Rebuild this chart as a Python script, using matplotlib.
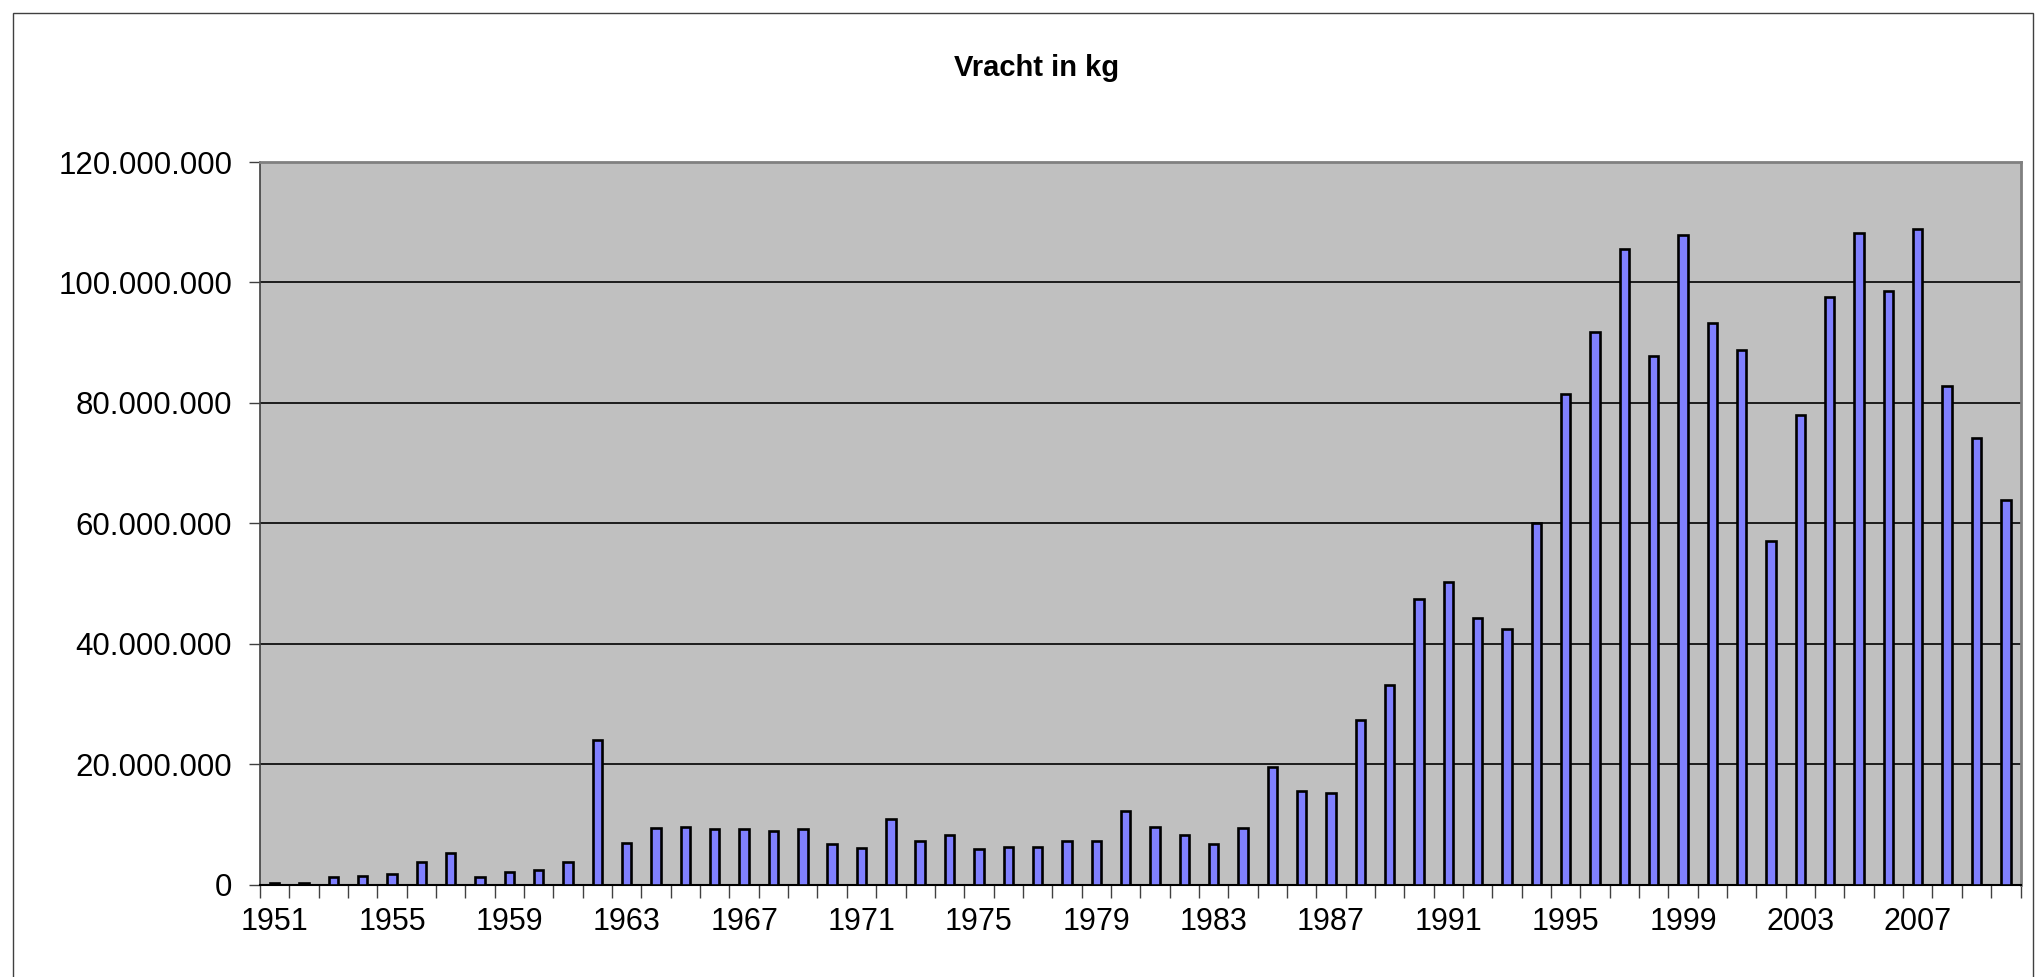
import matplotlib.pyplot as plt
from matplotlib.patches import Rectangle
from matplotlib.ticker import FuncFormatter, FixedLocator

plt.rcParams['font.family'] = ['Liberation Sans', 'DejaVu Sans']

# freight per year, in millions of kg
years = list(range(1951, 2011))
vracht_mln = [
    0.2, 0.3, 1.3, 1.4, 1.8, 3.7, 5.3, 1.3, 2.0, 2.4,
    3.8, 24.0, 6.9, 9.4, 9.6, 9.2, 9.25, 8.9, 9.25, 6.7,
    6.0, 10.8, 7.3, 8.3, 5.9, 6.3, 6.2, 7.3, 7.3, 12.2,
    9.6, 8.2, 6.8, 9.4, 19.5, 15.5, 15.2, 27.3, 33.2, 47.5,
    50.3, 44.3, 42.5, 60.1, 81.5, 91.7, 105.6, 87.7, 107.9, 93.3,
    88.7, 57.1, 77.9, 97.5, 108.2, 98.5, 108.9, 82.8, 74.2, 63.9,
]
vracht = [v * 1e6 for v in vracht_mln]
tick_years = years[::4]

fig = plt.figure(figsize=(20.37, 9.77), dpi=100)

# outer chart border
fig.patches.append(Rectangle((13 / 2037, -0.05), (2033 - 13) / 2037, 1.05 - 13 / 977,
                             transform=fig.transFigure, fill=False,
                             edgecolor='#404040', linewidth=1.0))

ax = fig.add_axes([260 / 2037, (977 - 884.5) / 977, (2020.5 - 260) / 2037, (884.5 - 162) / 977])
ax.set_facecolor('#C0C0C0')

x = list(range(len(years)))
ax.bar(x, vracht, width=0.32, color='#8080FF', edgecolor='black', linewidth=1.9, zorder=3)

ax.set_xlim(-0.5, len(years) - 0.5)
ax.set_ylim(0, 120e6)
ax.set_yticks([i * 20e6 for i in range(7)])
ax.yaxis.set_major_formatter(FuncFormatter(lambda v, p: f"{int(v):,}".replace(',', '.')))
ax.grid(axis='y', color='black', linewidth=1.2, zorder=1)

# labels every fourth year, tick marks between categories
ax.xaxis.set_major_locator(FixedLocator([years.index(y) for y in tick_years]))
ax.set_xticklabels([str(y) for y in tick_years])
ax.xaxis.set_minor_locator(FixedLocator([i - 0.5 for i in range(len(years) + 1)]))
ax.tick_params(axis='x', which='major', length=0, pad=16, labelsize=22)
ax.tick_params(axis='x', which='minor', length=9, width=1.0, color='#404040')
ax.tick_params(axis='y', length=8, width=1.0, pad=12, labelsize=22.5, color='#404040')

for side in ['top', 'right']:
    ax.spines[side].set_color('#808080')
    ax.spines[side].set_linewidth(2)
ax.spines['left'].set_color('#404040')
ax.spines['left'].set_linewidth(1.2)
ax.spines['bottom'].set_color('black')
ax.spines['bottom'].set_linewidth(1.5)

fig.text(1037 / 2037, 1 - 68 / 977, 'Vracht in kg', ha='center', va='center',
         fontsize=21, fontweight='bold')

plt.savefig('out.png', dpi=100)
